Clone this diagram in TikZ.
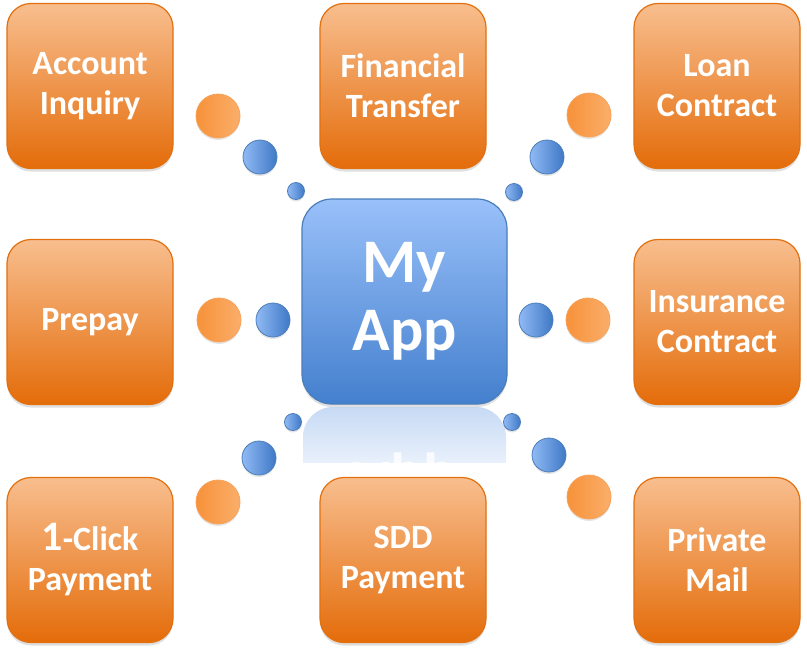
\documentclass[tikz,border=0pt]{standalone}
\usepackage{fontspec}
\setmainfont{Carlito}
\usetikzlibrary{shadows}
\definecolor{orTop}{HTML}{F8BE8E}
\definecolor{orBot}{HTML}{E46C0A}
\definecolor{orEdge}{HTML}{E3700F}
\definecolor{blTop}{HTML}{99C0F9}
\definecolor{blBot}{HTML}{4480CE}
\definecolor{blEdge}{HTML}{4A7EBB}
\definecolor{dotOr}{HTML}{F7923A}
\definecolor{dotOrLt}{HTML}{FAAE6A}
\definecolor{dotBl}{HTML}{3F78C6}
\definecolor{dotBlLt}{HTML}{90BAF4}
\tikzset{
  tile/.style={draw=orEdge,line width=1.2pt,rounded corners=24pt,
    top color=orTop,bottom color=orBot,minimum width=166pt,minimum height=165pt,
    align=center,text=white,font=\fontsize{34}{40}\selectfont\bfseries,
    drop shadow={opacity=.25,shadow xshift=0pt,shadow yshift=-3pt}},
  apptile/.style={draw=blEdge,line width=1.2pt,rounded corners=30pt,
    top color=blTop,bottom color=blBot,minimum size=205pt,
    align=center,text=white,font=\fontsize{62}{68}\selectfont\bfseries,
    drop shadow={opacity=.25,shadow xshift=0pt,shadow yshift=-3pt}},
  odot/.style={circle,draw=dotOr!85!white,line width=.8pt,inner sep=0pt,minimum size=44pt,
    left color=dotOr,right color=dotOrLt,
    drop shadow={opacity=.2,shadow xshift=0pt,shadow yshift=-2pt}},
  bdot/.style={circle,draw=blEdge,line width=.8pt,inner sep=0pt,minimum size=#1,
    left color=dotBlLt,right color=dotBl,
    drop shadow={opacity=.2,shadow xshift=0pt,shadow yshift=-2pt}},
  bdot/.default=34pt
}
\begin{document}
\begin{tikzpicture}[x=1pt,y=-1pt]
\useasboundingbox[fill=white] (0,0) rectangle (807,654);
% reflection of the app tile
\begin{scope}
  \clip (302,407) rectangle (507,462);
  \shade[top color=blTop!55!blBot!40,bottom color=white,rounded corners=30pt]
    (303,407) rectangle (506,500);
  \node[align=center,text=white,opacity=.8,font=\fontsize{62}{68}\selectfont\bfseries,yscale=-1] (mirror)
    at (404.5,512) {My\\App};
\end{scope}
% tiles
\node[tile] (acct)   at (90,86)   {Account\\Inquiry};
\node[tile] (fin)    at (403,86)  {Financial\\Transfer};
\node[tile] (loan)   at (717,86)  {Loan\\Contract};
\node[tile] (prepay) at (90,322)  {Prepay};
\node[tile] (ins)    at (717,322) {Insurance\\Contract};
\node[tile] (click)  at (90,560)  {{\fontsize{42}{40}\selectfont 1}-Click\\Payment};
\node[tile] (sdd)    at (403,560) {SDD\\Payment};
\node[tile] (mail)   at (717,560) {Private\\Mail};
\node[apptile] (app) at (404.5,301.5) {My\\App};
% dots between the tiles
\node[odot] (acct-o) at (218,116) {};
\node[bdot] (acct-b) at (260,157) {};
\node[bdot=17pt] (acct-s) at (296,191) {};
\node[odot] (loan-o) at (589,115) {};
\node[bdot] (loan-b) at (547,157) {};
\node[bdot=17pt] (loan-s) at (514,192) {};
\node[odot] (prepay-o) at (219,320) {};
\node[bdot] (prepay-b) at (273,320) {};
\node[bdot] (ins-b) at (536,320) {};
\node[odot] (ins-o) at (588,320) {};
\node[bdot=17pt] (click-s) at (293,422) {};
\node[bdot] (click-b) at (259,458) {};
\node[odot] (click-o) at (218,502) {};
\node[bdot=17pt] (mail-s) at (512,422) {};
\node[bdot] (mail-b) at (549,455) {};
\node[odot] (mail-o) at (589,497) {};
\end{tikzpicture}
\end{document}
